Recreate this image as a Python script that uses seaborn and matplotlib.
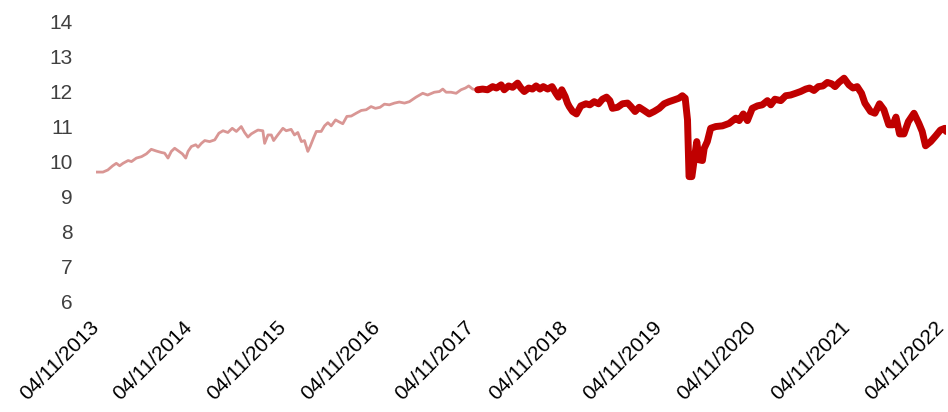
import matplotlib
matplotlib.use("Agg")
import matplotlib.pyplot as plt
import numpy as np
import pandas as pd
import seaborn as sns

start_date = "2013-11-04"
# days since start date
day_offsets = [
    0, 28, 47, 66, 80, 93, 106, 126, 139, 158, 178, 197, 216, 236, 255, 268, 281, 294, 307, 324,
    337, 350, 359, 372, 389, 398, 411, 424, 443, 463, 479, 495, 514, 531, 547, 566, 579, 592, 605, 621,
    631, 650, 657, 670, 683, 692, 708, 728, 741, 760, 773, 786, 800, 812, 825, 834, 847, 858, 877, 890,
    903, 916, 933, 945, 961, 977, 994, 1013, 1033, 1052, 1071, 1088, 1106, 1123, 1142, 1162, 1181, 1201, 1220, 1246,
    1272, 1291, 1317, 1337, 1350, 1363, 1382, 1402, 1421, 1438, 1451, 1466, 1486,
    1505, 1524, 1544, 1559, 1577, 1589, 1606, 1622, 1641, 1654, 1667, 1684, 1699, 1713, 1728, 1741, 1758, 1775, 1790,
    1800, 1813, 1826, 1835, 1842, 1855, 1870, 1887, 1907, 1922, 1939, 1956, 1971, 1987, 2000, 2010, 2030, 2049, 2069, 2082,
    2098, 2114, 2133, 2153, 2172, 2192, 2211, 2230, 2250, 2269, 2282, 2293, 2302, 2308, 2319, 2328, 2338, 2347, 2360, 2367,
    2379, 2392, 2412, 2438, 2464, 2490, 2503, 2519, 2535, 2554, 2574, 2593, 2613, 2626, 2642, 2665, 2684, 2703, 2723, 2742,
    2762, 2777, 2794, 2811, 2829, 2846, 2863, 2876, 2891, 2911, 2930, 2946, 2962, 2979, 2992, 3014, 3031, 3049, 3066, 3085,
    3101, 3113, 3127, 3144, 3161, 3183, 3202, 3215, 3228, 3248, 3267, 3286, 3303, 3308,
]
values = [
    9.71, 9.71, 9.77, 9.89, 9.96, 9.89, 9.96, 10.04, 10.01, 10.11, 10.15, 10.23, 10.36, 10.31, 10.27, 10.25, 10.11, 10.30, 10.39, 10.30,
    10.23, 10.11, 10.30, 10.44, 10.49, 10.42, 10.53, 10.61, 10.58, 10.63, 10.82, 10.89, 10.84, 10.96, 10.87, 11.01, 10.84, 10.71, 10.80, 10.87,
    10.91, 10.89, 10.53, 10.77, 10.77, 10.61, 10.77, 10.96, 10.89, 10.93, 10.77, 10.84, 10.58, 10.61, 10.30, 10.44, 10.68, 10.87, 10.87, 11.03,
    11.12, 11.03, 11.20, 11.15, 11.09, 11.30, 11.31, 11.39, 11.47, 11.49, 11.58, 11.53, 11.56, 11.65, 11.63, 11.68, 11.71, 11.68, 11.72, 11.85,
    11.96, 11.91, 11.99, 12.01, 12.08, 11.99, 11.99, 11.96, 12.06, 12.11, 12.17, 12.08, 12.06,
    12.08, 12.06, 12.15, 12.11, 12.20, 12.06, 12.17, 12.13, 12.25, 12.11, 12.01, 12.11, 12.08, 12.17, 12.08, 12.15, 12.08, 12.15, 11.96,
    11.85, 12.06, 11.87, 11.68, 11.58, 11.44, 11.37, 11.60, 11.66, 11.63, 11.72, 11.66, 11.79, 11.85, 11.75, 11.53, 11.56, 11.66, 11.68, 11.58,
    11.44, 11.56, 11.47, 11.37, 11.44, 11.53, 11.66, 11.72, 11.77, 11.82, 11.89, 11.82, 11.20, 9.58, 9.58, 10.06, 10.58, 10.06, 10.04, 10.39,
    10.58, 10.96, 11.01, 11.03, 11.10, 11.25, 11.18, 11.37, 11.18, 11.53, 11.60, 11.63, 11.75, 11.63, 11.79, 11.75, 11.89, 11.91, 11.96, 12.01,
    12.08, 12.11, 12.04, 12.15, 12.17, 12.27, 12.23, 12.15, 12.27, 12.39, 12.20, 12.11, 12.15, 11.96, 11.68, 11.44, 11.39, 11.66, 11.49, 11.06,
    11.06, 11.28, 10.80, 10.80, 11.15, 11.39, 11.10, 10.87, 10.46, 10.58, 10.74, 10.91, 10.96, 10.87,
]
split_day = 1486  # where the series changes style
tick_labels = ["04/11/2013", "04/11/2014", "04/11/2015", "04/11/2016", "04/11/2017",
               "04/11/2018", "04/11/2019", "04/11/2020", "04/11/2021", "04/11/2022"]
y_ticks = [6, 7, 8, 9, 10, 11, 12, 13, 14]

dates = pd.Timestamp(start_date) + pd.to_timedelta(day_offsets, unit="D")
df = pd.DataFrame({"date": dates, "value": values, "day": day_offsets})
hist = df[df["day"] <= split_day]
recent = df[df["day"] >= split_day]

sns.set_style("white")
plt.rcParams["font.family"] = ["Liberation Sans", "DejaVu Sans"]

fig = plt.figure(figsize=(9.48, 4.12), dpi=100)
ax = fig.add_axes([0.101, 0.267, 0.897, 0.68])

sns.lineplot(data=hist, x="date", y="value", ax=ax, color="#D99694", linewidth=2.0,
             estimator=None, sort=False)
sns.lineplot(data=recent, x="date", y="value", ax=ax, color="#C00000", linewidth=5.0,
             estimator=None, sort=False)
for ln in ax.get_lines():
    ln.set_solid_capstyle("round")
    ln.set_solid_joinstyle("round")

ax.set_ylim(6, 14)
ax.set_yticks(y_ticks)
ax.set_yticklabels([str(v) for v in y_ticks], color="#404040", fontsize=15)
ax.set_xlim(dates[0], dates[-1])
tick_dates = [pd.Timestamp(year=2013 + i, month=11, day=4) for i in range(len(tick_labels))]
ax.set_xticks(tick_dates)
ax.set_xticklabels(tick_labels, rotation=45, ha="right", va="center",
                   rotation_mode="anchor", fontsize=15, color="#000000")
ax.tick_params(axis="both", length=0)
ax.tick_params(axis="y", pad=16.5)
ax.tick_params(axis="x", pad=16)
ax.set_xlabel("")
ax.set_ylabel("")
for s in ax.spines.values():
    s.set_visible(False)

fig.savefig("out.png", dpi=100)
